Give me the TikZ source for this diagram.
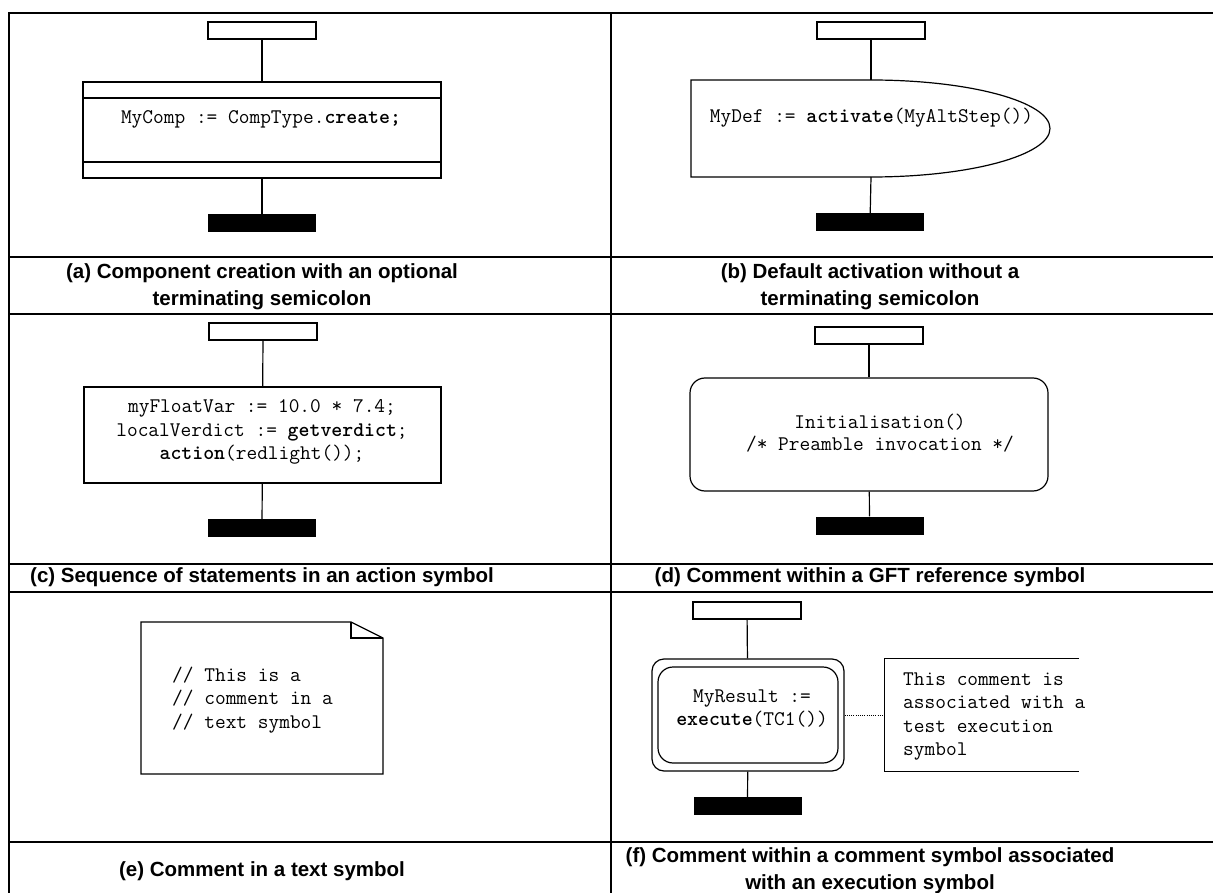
\documentclass[tikz,border=0pt]{standalone}
\usepackage{fontspec}
\setmainfont{Liberation Sans}
\newcommand\codefont{\fontsize{20.8pt}{23.5pt}\selectfont\ttfamily}
\newcommand\capfont{\fontsize{20.5pt}{27pt}\selectfont\bfseries}
\begin{document}
\begin{tikzpicture}[x=1pt,y=-1pt,
  frameline/.style={line width=2pt},
  shp/.style={draw, line width=1.2pt},
  conn/.style={line width=1.2pt},
  startbox/.style={shp, rectangle, minimum width=108pt, minimum height=17pt, inner sep=0pt},
  endbar/.style={fill=black, rectangle, minimum width=108pt, minimum height=18pt, inner sep=0pt},
  code/.style={font=\codefont, inner sep=0pt, align=center},
  captext/.style={font=\capfont, inner sep=0pt, align=center}]
\useasboundingbox (0,0) rectangle (1213,893);
\fill[white] (0,0) rectangle (1213,893);
% frame
\draw[frameline] (9,893) -- (9,13) -- (1213,13);
\draw[frameline] (611,13) -- (611,893);
\foreach \yy in {257,314,564,592,842} \draw[frameline] (9,\yy) -- (1213,\yy);
% (a)
\node[startbox] (sa) at (262,30.5) {};
\node[shp, rectangle, minimum width=358pt, minimum height=96pt, inner sep=0pt] (ca) at (262,130) {};
\draw[conn] (83,98) -- (441,98);
\draw[conn] (83,162) -- (441,162);
\node[code] (ta) at (261,119) {MyComp := CompType.\textbf{create;}};
\node[endbar] (ea) at (262,223.5) {};
\draw[conn] (sa) -- (ca);
\draw[conn] (ca) -- (ea);
\node[captext] (capa) at (262,286.5) {(a) Component creation with an optional\\terminating semicolon};
% (b)
\node[startbox] (sb) at (871,30.5) {};
\coordinate (bt) at (871,80);
\coordinate (bb) at (871,177);
\draw[shp] (691,80) -- (bt) arc[start angle=90, end angle=-90, x radius=179pt, y radius=48.5pt] -- (691,177) -- cycle;
\node[code] (tb) at (871.5,118) {MyDef := \textbf{activate}(MyAltStep())};
\node[endbar] (eb) at (870,222.5) {};
\draw[conn] (sb) -- (bt);
\draw[conn] (bb) -- (eb);
\node[captext] (capb) at (870,286.5) {(b) Default activation without a\\terminating semicolon};
% (c)
\node[startbox] (sc) at (263,331.5) {};
\node[shp, rectangle, minimum width=357pt, minimum height=96pt, inner sep=0pt] (ac) at (262.5,435) {};
\node[code] (tc) at (262,432) {myFloatVar := 10.0 * 7.4;\\localVerdict := \textbf{getverdict};\\\textbf{action}(redlight());};
\node[endbar] (ec) at (262,528) {};
\draw[conn] (sc) -- (ac);
\draw[conn] (ac) -- (ec);
\node[captext] (capc) at (262,577) {(c) Sequence of statements in an action symbol};
% (d)
\node[startbox] (sd) at (869,335.5) {};
\node[shp, rounded corners=15pt, minimum width=358pt, minimum height=113pt, inner sep=0pt] (gd) at (869,434.5) {};
\node[code] (td) at (880,433) {Initialisation()\\[-1.5pt]/* Preamble invocation */};
\node[endbar] (ed) at (869.5,525.5) {};
\draw[conn] (sd) -- (gd);
\draw[conn] (gd) -- (ed);
\node[captext] (capd) at (870,577) {(d) Comment within a GFT reference symbol};
% (e)
\draw[shp] (141,622) -- (351,622) -- (383,638) -- (383,774) -- (141,774) -- cycle;
\draw[shp] (351,622) -- (351,638) -- (383,638);
\node[code, align=left, anchor=west] (te) at (172,700) {// This is a\\// comment in a\\// text symbol};
\node[captext] (cape) at (262,871) {(e) Comment in a text symbol};
% (f)
\node[startbox] (sf) at (747,610.5) {};
\node[shp, rounded corners=12pt, minimum width=192pt, minimum height=112pt, inner sep=0pt] (xo) at (748,715) {};
\node[shp, rounded corners=15pt, minimum width=180pt, minimum height=96pt, inner sep=0pt] (xi) at (748,715) {};
\node[code] (tf) at (752,708.5) {MyResult :=\\\textbf{execute}(TC1())};
\node[endbar] (ef) at (747.5,806) {};
\draw[conn] (sf) -- (xo);
\draw[conn] (xo) -- (ef);
\node[minimum width=194pt, minimum height=112pt, inner sep=0pt] (cm) at (982,715) {};
\draw[shp] (cm.north east) -- (cm.north west) -- (cm.south west) -- (cm.south east);
\draw[line width=0.9pt, dash pattern=on 1pt off 1.2pt] (xo.east) -- (cm.west);
\node[code, align=left, anchor=west] (tcm) at (903,716.5) {This comment is\\associated with a\\test execution\\symbol};
\node[captext] (capf) at (870,870.5) {(f) Comment within a comment symbol associated\\with an execution symbol};
\end{tikzpicture}
\end{document}
